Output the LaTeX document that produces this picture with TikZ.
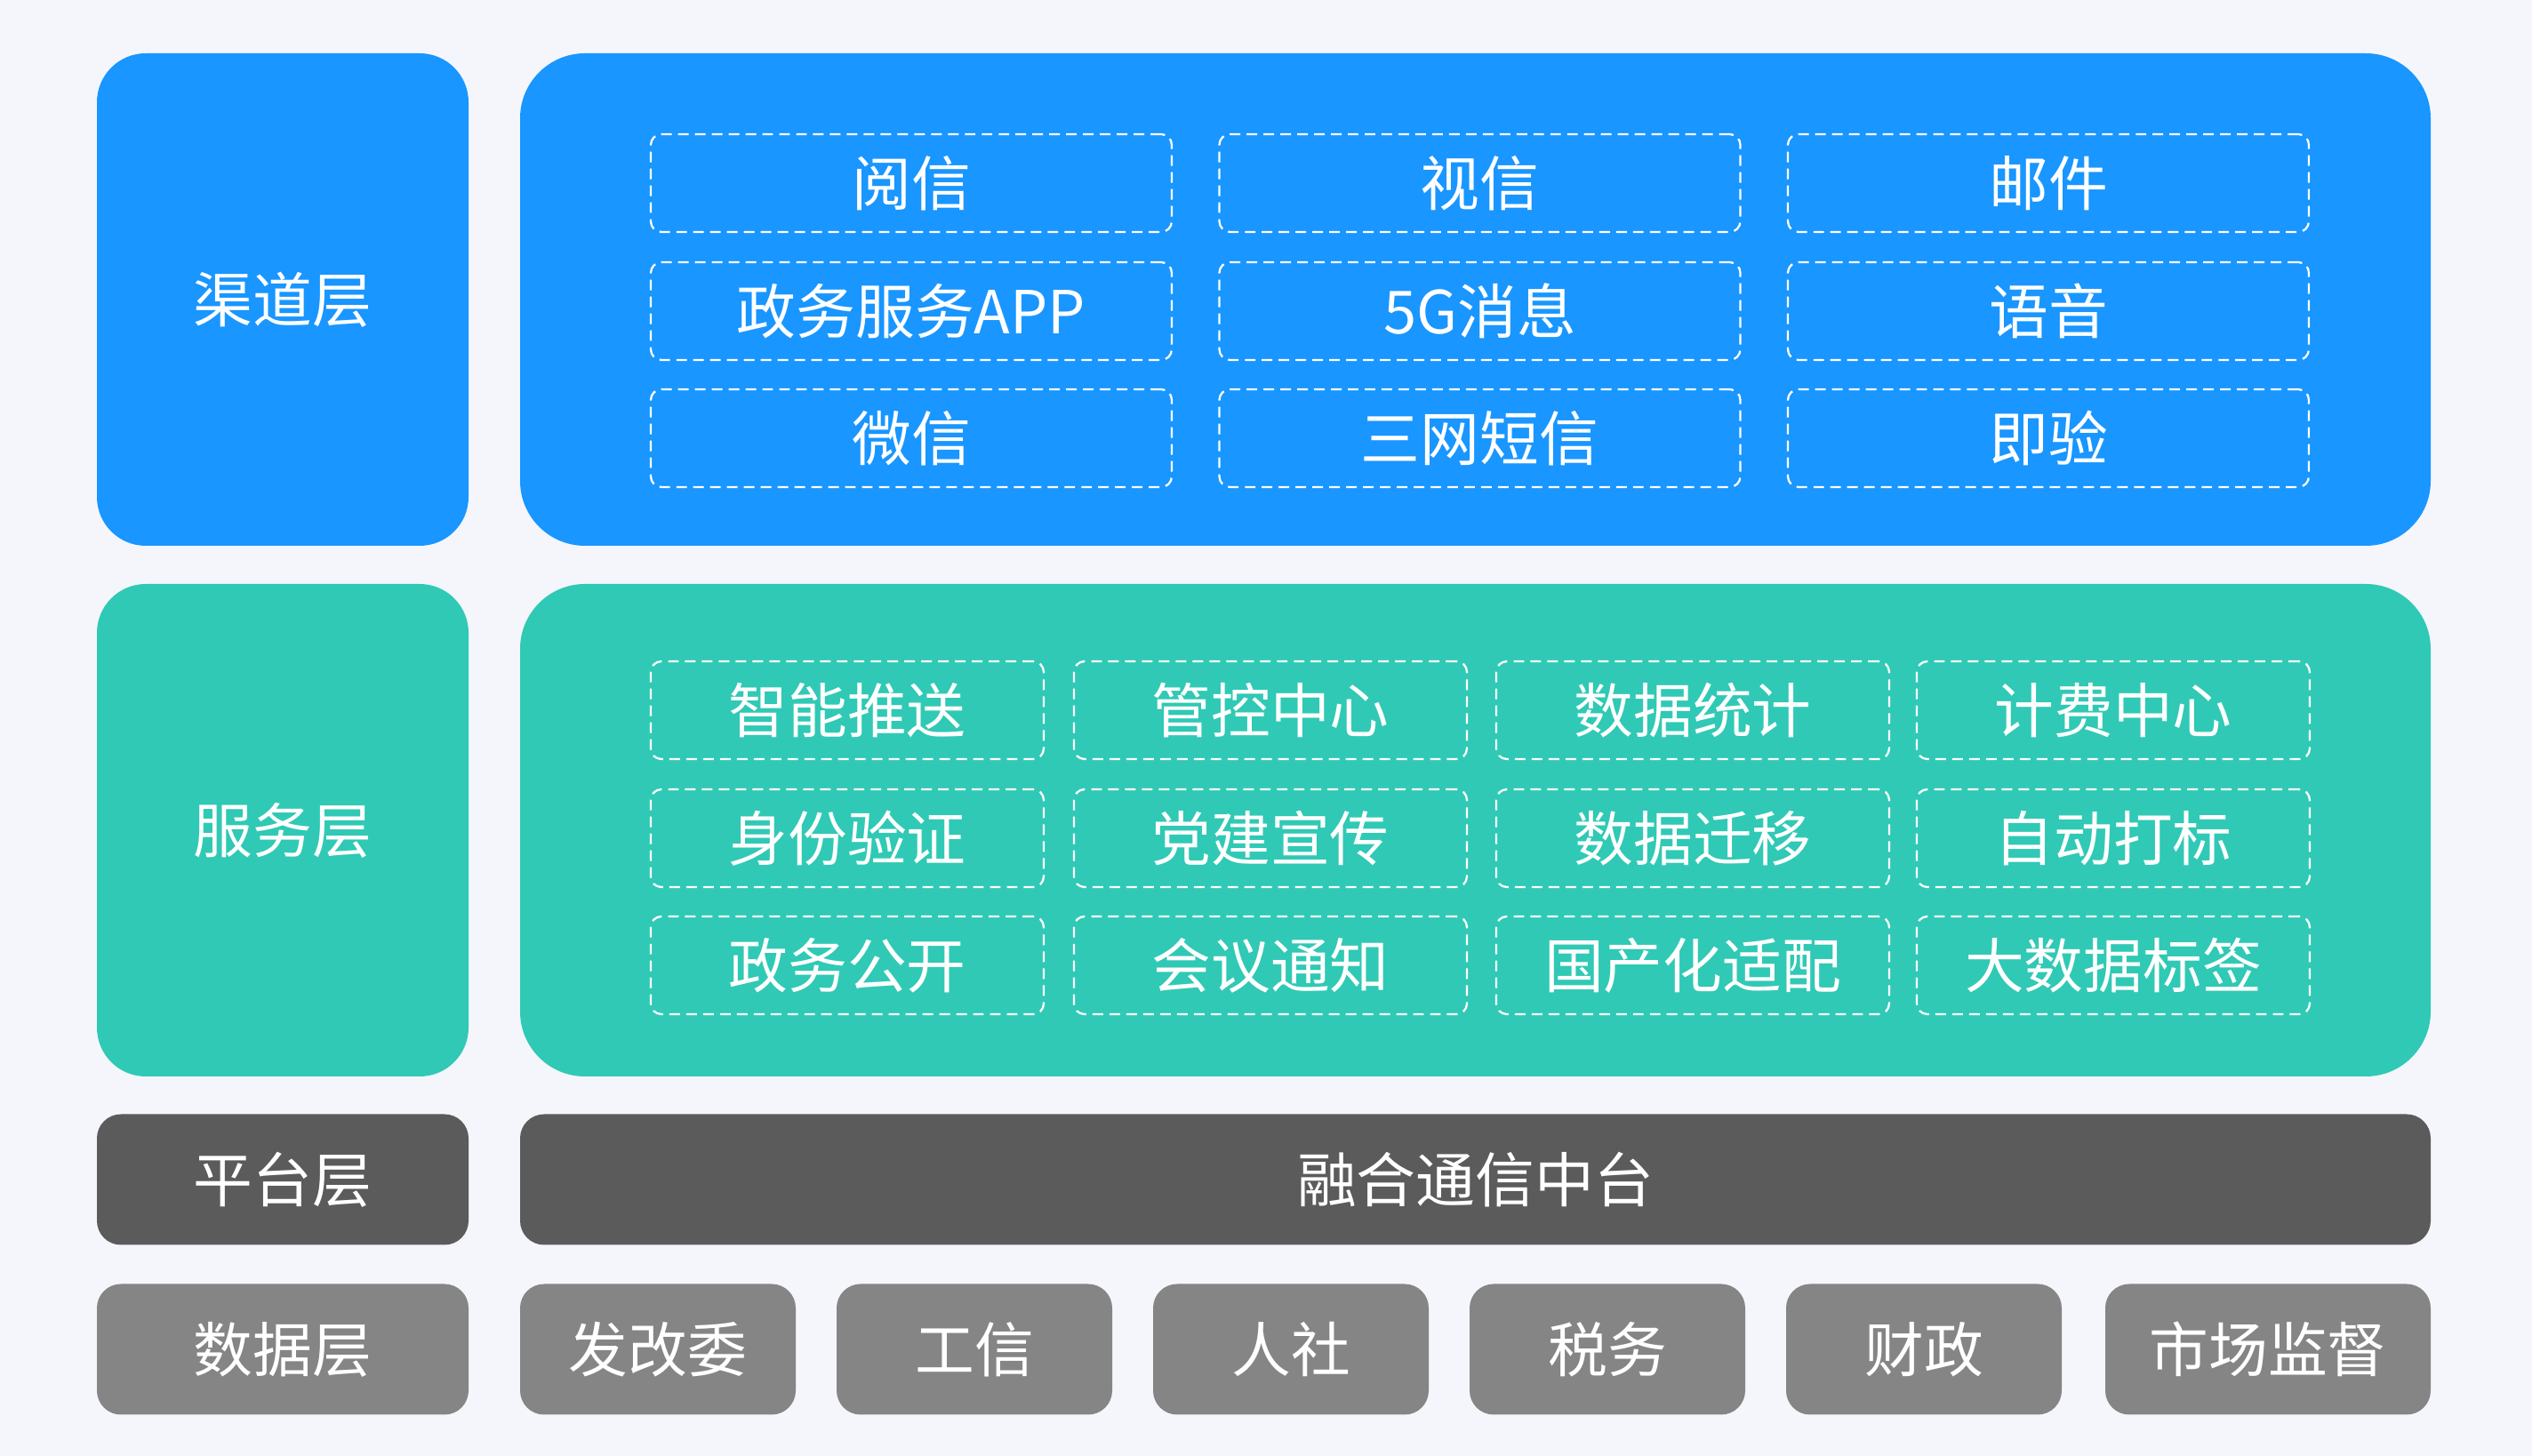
\documentclass[tikz,border=0pt]{standalone}
\usepackage{fontspec}
\usepackage{tikz}
\usetikzlibrary{positioning}
\newfontfamily\cjk{Noto Sans CJK SC}
\definecolor{chanblue}{HTML}{1996FF}
\definecolor{servteal}{HTML}{30C9B5}
\definecolor{platgray}{HTML}{5B5B5B}
\definecolor{datagray}{HTML}{858585}
\definecolor{pagebg}{HTML}{F4F6FB}

\begin{document}
\begin{tikzpicture}[
        every node/.style={font=\cjk\fontsize{19}{19}\selectfont, text=white, inner sep=0pt},
        tall/.style={rounded corners=0.55cm, minimum width=4.18cm, minimum height=5.54cm},
        wide/.style={rounded corners=0.73cm, minimum width=21.49cm, minimum height=5.54cm},
        flat/.style={rounded corners=0.27cm, minimum height=1.47cm},
        chip/.style={draw=white, line width=0.65pt, dash pattern=on 3.4pt off 2pt, rounded corners=0.12cm, minimum height=1.1cm}
    ]
            \fill[pagebg] (0, 0) rectangle (28.48, -16.38);
            \useasboundingbox (0, 0) rectangle (28.48, -16.38);

            % channel layer
            \node[tall, fill=chanblue] (chan) at (3.18, -3.37) {渠道层};
            \node[wide, fill=chanblue] (chanbox) at (16.595, -3.37) {};
            \node[chip, minimum width=5.86cm] (c1) at (10.25, -2.06) {阅信};
            \node[chip, minimum width=5.86cm] (c2) at (16.645, -2.06) {视信};
            \node[chip, minimum width=5.86cm] (c3) at (23.04, -2.06) {邮件};
            \node[chip, minimum width=5.86cm] (c4) at (10.25, -3.50) {政务服务APP};
            \node[chip, minimum width=5.86cm] (c5) at (16.645, -3.50) {5G消息};
            \node[chip, minimum width=5.86cm] (c6) at (23.04, -3.50) {语音};
            \node[chip, minimum width=5.86cm] (c7) at (10.25, -4.93) {微信};
            \node[chip, minimum width=5.86cm] (c8) at (16.645, -4.93) {三网短信};
            \node[chip, minimum width=5.86cm] (c9) at (23.04, -4.93) {即验};

            % service layer
            \node[tall, fill=servteal] (serv) at (3.18, -9.34) {服务层};
            \node[wide, fill=servteal] (servbox) at (16.595, -9.34) {};
            \node[chip, minimum width=4.42cm] (s1) at (9.53, -7.99) {智能推送};
            \node[chip, minimum width=4.42cm] (s2) at (14.29, -7.99) {管控中心};
            \node[chip, minimum width=4.42cm] (s3) at (19.04, -7.99) {数据统计};
            \node[chip, minimum width=4.42cm] (s4) at (23.77, -7.99) {计费中心};
            \node[chip, minimum width=4.42cm] (s5) at (9.53, -9.43) {身份验证};
            \node[chip, minimum width=4.42cm] (s6) at (14.29, -9.43) {党建宣传};
            \node[chip, minimum width=4.42cm] (s7) at (19.04, -9.43) {数据迁移};
            \node[chip, minimum width=4.42cm] (s8) at (23.77, -9.43) {自动打标};
            \node[chip, minimum width=4.42cm] (s9) at (9.53, -10.86) {政务公开};
            \node[chip, minimum width=4.42cm] (s10) at (14.29, -10.86) {会议通知};
            \node[chip, minimum width=4.42cm] (s11) at (19.04, -10.86) {国产化适配};
            \node[chip, minimum width=4.42cm] (s12) at (23.77, -10.86) {大数据标签};

            % platform layer
            \node[flat, fill=platgray, minimum width=4.18cm] (plat) at (3.18, -13.27) {平台层};
            \node[flat, fill=platgray, minimum width=21.49cm] (platbox) at (16.595, -13.27) {融合通信中台};

            % data layer
            \node[flat, fill=datagray, minimum width=4.18cm] (data) at (3.18, -15.18) {数据层};
            \node[flat, fill=datagray, minimum width=3.10cm] (d1) at (7.40, -15.18) {发改委};
            \node[flat, fill=datagray, minimum width=3.10cm] (d2) at (10.96, -15.18) {工信};
            \node[flat, fill=datagray, minimum width=3.10cm] (d3) at (14.52, -15.18) {人社};
            \node[flat, fill=datagray, minimum width=3.10cm] (d4) at (18.08, -15.18) {税务};
            \node[flat, fill=datagray, minimum width=3.10cm] (d5) at (21.64, -15.18) {财政};
            \node[flat, fill=datagray, minimum width=3.66cm] (d6) at (25.51, -15.18) {市场监督};
        \end{tikzpicture}
\end{document}
